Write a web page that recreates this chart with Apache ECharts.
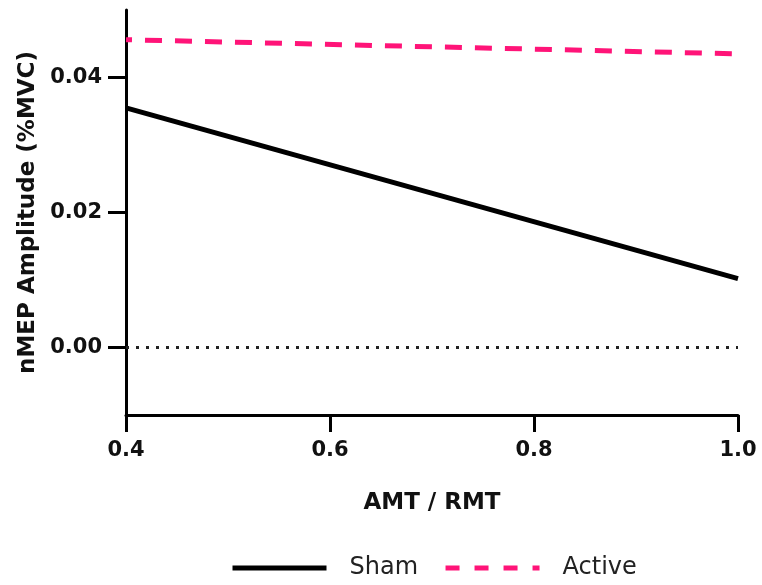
<!DOCTYPE html>
<html>
<head>
<meta charset="utf-8">
<script src="https://cdn.jsdelivr.net/npm/echarts@6/dist/echarts.min.js"></script>
<style>
  html, body { margin: 0; padding: 0; background: #fff; }
  #chart { width: 762px; height: 585px; }
</style>
</head>
<body>
<div id="chart"></div>
<script>
// AMT/RMT ratio (x) vs normalised MEP amplitude (y), fitted lines per condition
const xRange = [0.4, 1.0];
const xTicks = [0.4, 0.6, 0.8, 1.0];
const yTicks = [0.00, 0.02, 0.04];
const shamX = [0.4, 1.0];
const shamY = [0.0355, 0.0102];
const activeX = [0.4, 1.0];
const activeY = [0.0456, 0.0435];

const FONT = 'DejaVu Sans';
const PINK = '#FF1478';
const pair = (xs, ys) => xs.map((x, i) => [x, ys[i]]);

const chart = echarts.init(document.getElementById('chart'), null, { renderer: 'canvas' });

chart.setOption({
  animation: false,
  backgroundColor: '#ffffff',
  grid: { left: 126, right: 24, top: 10, bottom: 170, containLabel: false },
  xAxis: {
    type: 'value',
    min: xRange[0],
    max: xRange[1],
    interval: 0.2,
    name: 'AMT / RMT',
    nameLocation: 'middle',
    nameGap: 77,
    nameTextStyle: { fontFamily: FONT, fontWeight: 'bold', fontSize: 23, color: '#111' },
    axisLine: { show: true, onZero: false, lineStyle: { color: '#000', width: 3 } },
    axisTick: { show: true, inside: false, length: 17, lineStyle: { color: '#000', width: 3 } },
    axisLabel: {
      margin: 25,
      fontFamily: FONT, fontWeight: 'bold', fontSize: 21, color: '#111',
      formatter: v => xTicks.some(t => Math.abs(t - v) < 1e-9) ? v.toFixed(1) : ''
    },
    splitLine: { show: false }
  },
  yAxis: {
    type: 'value',
    min: -0.01,
    max: 0.05,
    interval: 0.02,
    name: 'nMEP Amplitude (%MVC)',
    nameLocation: 'middle',
    nameGap: 81,
    nameTextStyle: { fontFamily: FONT, fontWeight: 'bold', fontSize: 23, color: '#111' },
    axisLine: { show: true, onZero: false, lineStyle: { color: '#000', width: 3 } },
    axisTick: { show: true, inside: false, length: 18, lineStyle: { color: '#000', width: 3 },
      customValues: yTicks },
    axisLabel: {
      margin: 24,
      fontFamily: FONT, fontWeight: 'bold', fontSize: 21, color: '#111',
      customValues: yTicks,
      formatter: v => v.toFixed(2)
    },
    splitLine: { show: false }
  },
  legend: {
    left: 230,
    top: 556,
    padding: 0,
    itemWidth: 94,
    itemHeight: 14,
    itemGap: 25,
    itemStyle: { opacity: 0 },
    lineStyle: { width: 5 },
    textStyle: { fontFamily: FONT, fontSize: 24, color: '#222', padding: [0, 0, 0, 18] },
    data: [
      { name: 'Sham' },
      { name: 'Active', lineStyle: { type: [14, 15], dashOffset: 0 } }
    ]
  },
  series: [
    {
      name: 'Sham',
      type: 'line',
      data: pair(shamX, shamY),
      symbol: 'none',
      color: '#000',
      lineStyle: { color: '#000', width: 5 },
      markLine: {
        silent: true,
        symbol: ['none', 'none'],
        label: { show: false },
        lineStyle: { color: '#222', width: 3, type: [3, 7] },
        data: [{ yAxis: 0 }]
      },
      z: 3
    },
    {
      name: 'Active',
      type: 'line',
      data: pair(activeX, activeY),
      symbol: 'none',
      color: PINK,
      lineStyle: { color: PINK, width: 5, type: [17, 13], dashOffset: 11 },
      z: 4
    }
  ]
});
</script>
</body>
</html>
